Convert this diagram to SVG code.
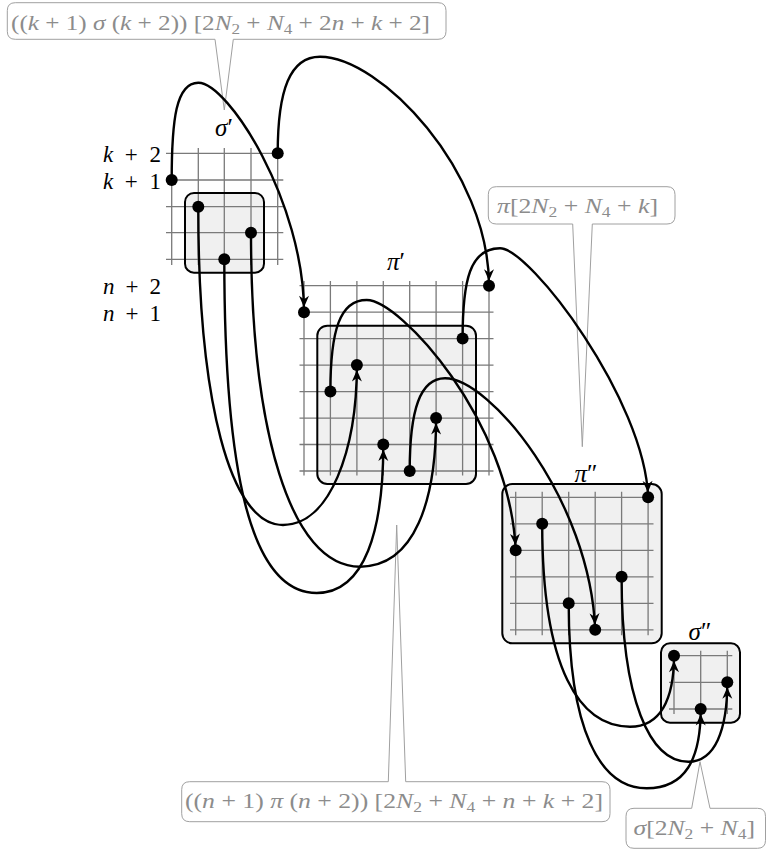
<svg xmlns="http://www.w3.org/2000/svg" width="767" height="851" viewBox="0 0 767 851">
<defs>
<style>
.bg{fill:#fff}
.boxf{fill:#f0f0f0;stroke:none}
.boxs{fill:none;stroke:#000;stroke-width:2}
.grid{fill:none;stroke:#7a7a7a;stroke-width:1.3}
.dot{fill:#000}
.conn{fill:none;stroke:#000;stroke-width:2.4}
.callout{fill:#fff;stroke:#a0a0a0;stroke-width:1}
.ct{fill:#8c8c8c;font-family:"Liberation Serif","DejaVu Serif",serif;font-size:22px}
.lbl{fill:#000;font-family:"Liberation Serif","DejaVu Serif",serif;font-size:23px}
.glbl{fill:#000;font-family:"Liberation Serif","DejaVu Serif",serif;font-size:25px}
.i{font-style:italic}
.sub{font-size:15px}
</style>
<marker id="ah" markerUnits="userSpaceOnUse" orient="auto" markerWidth="20" markerHeight="20" refX="15" refY="0" overflow="visible">
<path d="M10,0 L-1.5,-5 L2,0 L-1.5,5 Z" fill="#000"/>
</marker>
</defs>
<rect class="bg" x="0" y="0" width="767" height="851"/>

<g id="sigma1">
<rect class="boxf" x="185" y="193" width="79" height="79.7" rx="9"/>
<path class="grid" d="M166,153.3H283.3M166,180H283.3M166,206.7H283.3M166,232.7H283.3M166,259.3H283.3M171.7,148V265M198.3,148V265M224.3,148V265M251,148V265M277.7,148V265"/>
<rect class="boxs" x="185" y="193" width="79" height="79.7" rx="9"/>
<circle class="dot" cx="171.7" cy="180" r="6"/>
<circle class="dot" cx="277.7" cy="153.3" r="6"/>
<circle class="dot" cx="198.3" cy="206.7" r="6"/>
<circle class="dot" cx="251" cy="232.7" r="6"/>
<circle class="dot" cx="224.3" cy="259.3" r="6"/>
<text class="glbl" x="224" y="136" text-anchor="middle"><tspan class="i">σ</tspan>′</text>
<text class="lbl" x="103" y="162" textLength="58" lengthAdjust="spacing"><tspan class="i">k</tspan> + 2</text>
<text class="lbl" x="103" y="188.5" textLength="58" lengthAdjust="spacing"><tspan class="i">k</tspan> + 1</text>
</g>

<g id="pi1">
<rect class="boxf" x="317.3" y="325.7" width="158.7" height="158.3" rx="10"/>
<path class="grid" d="M299.5,285.7H493.5M299.5,312.2H493.5M299.5,338.6H493.5M299.5,365.1H493.5M299.5,391.6H493.5M299.5,418.1H493.5M299.5,444.5H493.5M299.5,471H493.5M304,281V475.5M330.4,281V475.5M356.9,281V475.5M383.3,281V475.5M409.7,281V475.5M436.1,281V475.5M462.6,281V475.5M489,281V475.5"/>
<rect class="boxs" x="317.3" y="325.7" width="158.7" height="158.3" rx="10"/>
<circle class="dot" cx="304" cy="312.2" r="6"/>
<circle class="dot" cx="489" cy="285.7" r="6"/>
<circle class="dot" cx="462.6" cy="338.6" r="6"/>
<circle class="dot" cx="356.9" cy="365.1" r="6"/>
<circle class="dot" cx="330.4" cy="391.6" r="6"/>
<circle class="dot" cx="436.1" cy="418.1" r="6"/>
<circle class="dot" cx="383.3" cy="444.5" r="6"/>
<circle class="dot" cx="409.7" cy="471" r="6"/>
<text class="glbl" x="396" y="270" text-anchor="middle"><tspan class="i">π</tspan>′</text>
<text class="lbl" x="103" y="294" textLength="58" lengthAdjust="spacing"><tspan class="i">n</tspan> + 2</text>
<text class="lbl" x="103" y="320.5" textLength="58" lengthAdjust="spacing"><tspan class="i">n</tspan> + 1</text>
</g>

<g id="pi2">
<rect class="boxf" x="502.3" y="484" width="159.4" height="159.3" rx="10"/>
<path class="grid" d="M510,497.3H653.5M510,523.8H653.5M510,550.3H653.5M510,576.8H653.5M510,603.3H653.5M510,629.8H653.5M515.7,491.8V635.3M542.2,491.8V635.3M568.7,491.8V635.3M595.2,491.8V635.3M621.6,491.8V635.3M648.1,491.8V635.3"/>
<rect class="boxs" x="502.3" y="484" width="159.4" height="159.3" rx="10"/>
<circle class="dot" cx="648.1" cy="497.3" r="6"/>
<circle class="dot" cx="542.2" cy="523.8" r="6"/>
<circle class="dot" cx="515.7" cy="550.3" r="6"/>
<circle class="dot" cx="621.6" cy="576.8" r="6"/>
<circle class="dot" cx="568.7" cy="603.3" r="6"/>
<circle class="dot" cx="595.2" cy="629.8" r="6"/>
<text class="glbl" x="586" y="482" text-anchor="middle"><tspan class="i">π</tspan>″</text>
</g>

<g id="sigma2">
<rect class="boxf" x="661" y="643.3" width="79" height="79.4" rx="9"/>
<path class="grid" d="M669,655.7H732.3M669,682.3H732.3M669,709H732.3M674,650.7V714M700.7,650.7V714M727.3,650.7V714"/>
<rect class="boxs" x="661" y="643.3" width="79" height="79.4" rx="9"/>
<circle class="dot" cx="674" cy="655.7" r="6"/>
<circle class="dot" cx="727.3" cy="682.3" r="6"/>
<circle class="dot" cx="700.7" cy="709" r="6"/>
<text class="glbl" x="700" y="640" text-anchor="middle"><tspan class="i">σ</tspan>″</text>
</g>

<g id="callout-top">
<path class="callout" d="M15.3,2.7H438Q446,2.7 446,10.7V31.3Q446,39.3 438,39.3H233.3L224.3,110L215,39.3H15.3Q7.3,39.3 7.3,31.3V10.7Q7.3,2.7 15.3,2.7Z"/>
<text class="ct" x="11" y="30" textLength="419" lengthAdjust="spacingAndGlyphs">((<tspan class="i">k</tspan> + 1) <tspan class="i">σ</tspan> (<tspan class="i">k</tspan> + 2)) [2<tspan class="i">N</tspan><tspan class="sub" dy="4">2</tspan><tspan dy="-4"> + </tspan><tspan class="i">N</tspan><tspan class="sub" dy="4">4</tspan><tspan dy="-4"> + 2</tspan><tspan class="i">n</tspan> + <tspan class="i">k</tspan> + 2]</text>
</g>

<g id="callout-pi">
<path class="callout" d="M496.3,186.7H667Q675,186.7 675,194.7V216Q675,224 667,224H592.3L582.3,446.7L572.7,224H496.3Q488.3,224 488.3,216V194.7Q488.3,186.7 496.3,186.7Z"/>
<text class="ct" x="497" y="213.3" textLength="161" lengthAdjust="spacingAndGlyphs"><tspan class="i">π</tspan>[2<tspan class="i">N</tspan><tspan class="sub" dy="4">2</tspan><tspan dy="-4"> + </tspan><tspan class="i">N</tspan><tspan class="sub" dy="4">4</tspan><tspan dy="-4"> + </tspan><tspan class="i">k</tspan>]</text>
</g>

<g id="callout-bottom">
<path class="callout" d="M189.7,781.7H388.3L396.7,525L405.7,781.7H602Q610,781.7 610,789.7V813.7Q610,821.7 602,821.7H189.7Q181.7,821.7 181.7,813.7V789.7Q181.7,781.7 189.7,781.7Z"/>
<text class="ct" x="185" y="808" textLength="418" lengthAdjust="spacingAndGlyphs">((<tspan class="i">n</tspan> + 1) <tspan class="i">π</tspan> (<tspan class="i">n</tspan> + 2)) [2<tspan class="i">N</tspan><tspan class="sub" dy="4">2</tspan><tspan dy="-4"> + </tspan><tspan class="i">N</tspan><tspan class="sub" dy="4">4</tspan><tspan dy="-4"> + </tspan><tspan class="i">n</tspan> + <tspan class="i">k</tspan> + 2]</text>
</g>

<g id="callout-sigma">
<path class="callout" d="M634,808.3H691.7L700,761.7L710,808.3H757.5Q765.5,808.3 765.5,816.3V840.3Q765.5,848.3 757.5,848.3H634Q626,848.3 626,840.3V816.3Q626,808.3 634,808.3Z"/>
<text class="ct" x="633.5" y="834.5" textLength="121.5" lengthAdjust="spacingAndGlyphs"><tspan class="i">σ</tspan>[2<tspan class="i">N</tspan><tspan class="sub" dy="4">2</tspan><tspan dy="-4"> + </tspan><tspan class="i">N</tspan><tspan class="sub" dy="4">4</tspan><tspan dy="-4">]</tspan></text>
</g>

<g id="connectors">
<path class="conn" marker-end="url(#ah)" d="M171.7,180C171.7,120 176,82.7 198.3,82.7C228.3,82.7 304,202.3 304,312.2"/>
<path class="conn" marker-end="url(#ah)" d="M277.7,153.3C277.7,90 290,56.7 320,56.7C380,56.7 489,170 489,285.7"/>
<path class="conn" marker-end="url(#ah)" d="M198.3,206.7C198,400 230,525 283,525C330,525 356.9,450 356.9,365.1"/>
<path class="conn" marker-end="url(#ah)" d="M224.3,259.3C224.3,470 250,593 316.7,593C365,593 383.3,530 383.3,444.5"/>
<path class="conn" marker-end="url(#ah)" d="M251,232.7C251,430 290,566.7 360,566.7C415,566.7 436.1,500 436.1,418.1"/>
<path class="conn" marker-end="url(#ah)" d="M330.4,391.6C330.4,330 340,300 366.7,300C400,300 510,420 515.7,550.3"/>
<path class="conn" marker-end="url(#ah)" d="M409.7,471C409.7,410 420,378.3 445,378.3C490,378.3 590,500 595.2,629.8"/>
<path class="conn" marker-end="url(#ah)" d="M462.6,338.6C462.6,280 470,248.3 500,248.3C530,248.3 645,400 648.1,497.3"/>
<path class="conn" marker-end="url(#ah)" d="M542.2,523.8C542.2,670 580,726.7 630,726.7C660,726.7 674,700 674,655.7"/>
<path class="conn" marker-end="url(#ah)" d="M568.7,603.3C568.7,730 600,788.3 646.7,788.3C685,788.3 700.7,760 700.7,709"/>
<path class="conn" marker-end="url(#ah)" d="M621.6,576.8C621.6,700 650,761.7 688.3,761.7C715,761.7 727.3,730 727.3,682.3"/>
</g>
</svg>
